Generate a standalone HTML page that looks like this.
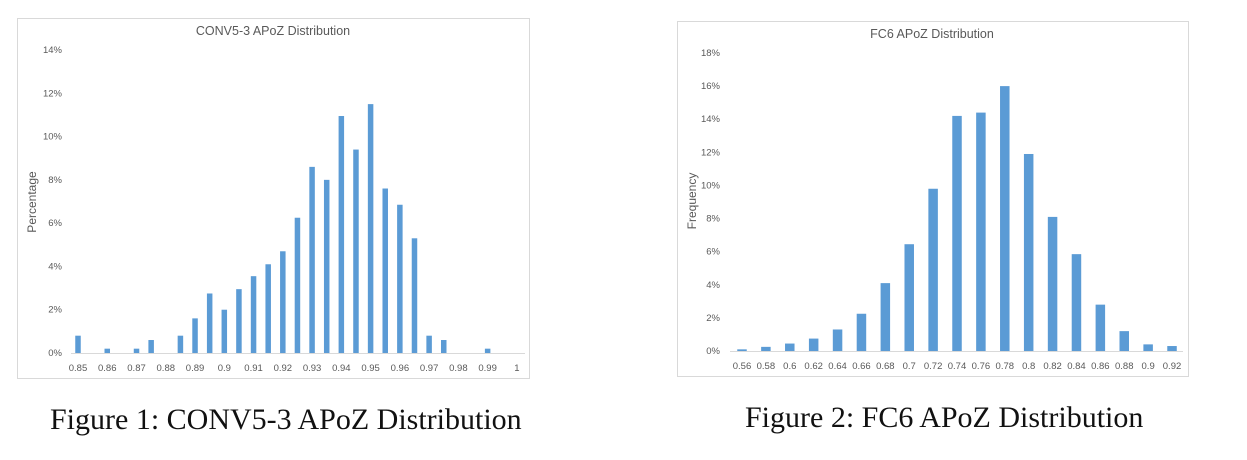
<!DOCTYPE html>
<html><head><meta charset="utf-8"><style>
body{margin:0;width:1247px;height:460px;background:#fff;overflow:hidden;position:relative;font-family:"Liberation Sans",sans-serif}
svg{position:absolute;left:0;top:0}
.cap{position:absolute;font-family:"Liberation Serif",serif;font-size:30px;color:#111;white-space:nowrap}
</style></head><body>
<svg id="svg" width="1247" height="460"></svg>
<div class="cap" style="left:50px;top:403px">Figure 1: CONV5-3 APoZ Distribution</div>
<div class="cap" style="left:745px;top:401px">Figure 2: FC6 APoZ Distribution</div>
<script>
const c1Labels=["0.85","","0.86","","0.87","","0.88","","0.89","","0.9","","0.91","","0.92","","0.93","","0.94","","0.95","","0.96","","0.97","","0.98","","0.99","","1"];
const c1Values=[0.8,0,0.2,0,0.2,0.6,0,0.8,1.6,2.75,2.0,2.95,3.55,4.1,4.7,6.25,8.6,8.0,10.95,9.4,11.5,7.6,6.85,5.3,0.8,0.6,0,0,0.2,0,0];
const c1Ticks=[0,2,4,6,8,10,12,14];
const c2Labels=["0.56","0.58","0.6","0.62","0.64","0.66","0.68","0.7","0.72","0.74","0.76","0.78","0.8","0.82","0.84","0.86","0.88","0.9","0.92"];
const c2Values=[0.1,0.25,0.45,0.75,1.3,2.25,4.1,6.45,9.8,14.2,14.4,16.0,11.9,8.1,5.85,2.8,1.2,0.4,0.3];
const c2Ticks=[0,2,4,6,8,10,12,14,16,18];
const NS="http://www.w3.org/2000/svg";
const svg=document.getElementById('svg');
function mk(t,a,p){const e=document.createElementNS(NS,t);for(const k in a)e.setAttribute(k,a[k]);(p||svg).appendChild(e);return e;}
function chart(o){
  const g=mk('g',{});
  
  
  const fr=mk('rect',{x:o.fx,y:o.fy,width:o.fw,height:o.fh,fill:'#fff',stroke:'#d9d9d9','stroke-width':1},g);
  
  
  const t=mk('text',{x:o.tx,y:o.ty,'text-anchor':'middle','font-size':12.5,fill:'#595959'},g);t.textContent=o.title;
  
  
  const yv=v=>o.y0-(v/o.ymax)*(o.y0-o.ytop);
  const xv=i=>o.x0+i*o.step;
  o.ticks.forEach(v=>{const e=mk('text',{x:o.ylx,y:yv(v)+3,'text-anchor':'end','font-size':9.5,fill:'#595959'},g);e.textContent=v+'%';
    
    });
  const yt=mk('text',{transform:`translate(${o.ytx},${o.yty}) rotate(-90)`,'text-anchor':'middle','font-size':12,fill:'#595959'},g);yt.textContent=o.ytitle;
  
  
  o.values.forEach((v,i)=>{const h=o.y0-yv(v);if(h<=0)return;
    const r=mk('rect',{x:xv(i)-o.bw/2,y:yv(v),width:o.bw,height:h,fill:'#5b9bd5'},g);
    
    });
  const ax=mk('line',{x1:o.ax1,x2:o.ax2,y1:o.y0+0.5,y2:o.y0+0.5,stroke:'#d9d9d9'},g);
  
  
  o.labels.forEach((l,i)=>{if(!l)return;const e=mk('text',{x:xv(i),y:o.y0+18,'text-anchor':'middle','font-size':9.5,fill:'#595959'},g);e.textContent=l;
    
    });
}
chart({name:'conv5-3-chart',fx:17.5,fy:18.5,fw:512,fh:360,tx:273,ty:35,title:'CONV5-3 APoZ Distribution',
  y0:353,ytop:50,ymax:14,ticks:c1Ticks,ylx:62,ytx:36,yty:202,ytitle:'Percentage',
  x0:78,step:14.63,bw:5.5,values:c1Values,labels:c1Labels,ax1:71,ax2:525});
chart({name:'fc6-chart',fx:677.5,fy:21.5,fw:511,fh:355,tx:932,ty:38,title:'FC6 APoZ Distribution',
  y0:351,ytop:53,ymax:18,ticks:c2Ticks,ylx:720,ytx:696,yty:201,ytitle:'Frequency',
  x0:742,step:23.89,bw:9.5,values:c2Values,labels:c2Labels,ax1:730,ax2:1183});
</script>
</body></html>
